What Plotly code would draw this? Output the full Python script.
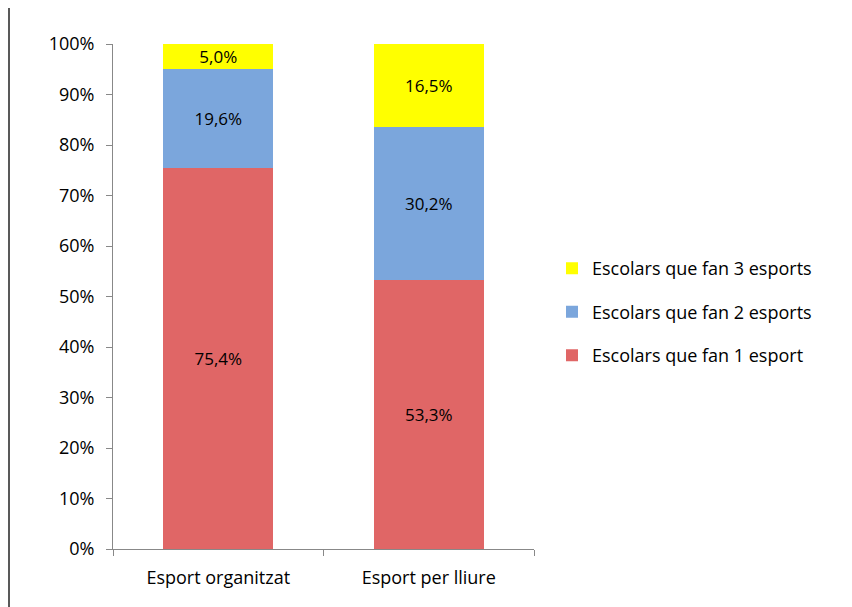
import plotly.graph_objects as go

categories = ["Esport organitzat", "Esport per lliure"]
one_sport = [75.4, 53.3]
two_sports = [19.6, 30.2]
three_sports = [5.0, 16.5]
y_ticks = [0, 10, 20, 30, 40, 50, 60, 70, 80, 90, 100]

series = [
    ("Escolars que fan 1 esport", one_sport, "#E06666"),
    ("Escolars que fan 2 esports", two_sports, "#7BA6DC"),
    ("Escolars que fan 3 esports", three_sports, "#FFFF00"),
]

FONT = "Open Sans, Liberation Sans, sans-serif"
PLOT_W = 421

fig = go.Figure()
for i, (name, vals, color) in enumerate(series):
    fig.add_trace(
        go.Bar(
            x=categories,
            y=vals,
            name=name,
            legendgroup=name,
            legendrank=len(series) - i,
            marker=dict(color=color, line=dict(width=0)),
            text=[f"{v:.1f}%".replace(".", ",") for v in vals],
            textposition="inside",
            insidetextanchor="middle",
            constraintext="none",
            textfont=dict(color="black", size=17, family=FONT),
            hoverinfo="skip",
        )
    )

# the page body adds 8px around the figure, so margins are shifted by that
fig.update_layout(
    barmode="stack",
    bargap=0.477,
    width=852,
    height=607,
    margin=dict(l=105, r=852 - 105 - PLOT_W, t=36, b=66),
    paper_bgcolor="white",
    plot_bgcolor="white",
    font=dict(family=FONT, size=18, color="black"),
    legend=dict(
        x=1 + 18 / PLOT_W,
        y=0.469,
        yanchor="middle",
        xanchor="left",
        traceorder="grouped",
        tracegroupgap=17,
        font=dict(size=18, family=FONT),
        itemsizing="constant",
    ),
    showlegend=True,
)

fig.update_xaxes(
    showline=True,
    linecolor="#888888",
    linewidth=1,
    ticks="outside",
    ticklen=6,
    tickcolor="#888888",
    tickson="boundaries",
    ticklabelstandoff=12,
    tickfont=dict(size=18),
)
fig.update_yaxes(
    range=[0, 100],
    tickvals=y_ticks,
    ticktext=[f"{v}%" for v in y_ticks],
    showline=True,
    linecolor="#888888",
    linewidth=1,
    ticks="outside",
    ticklen=6,
    tickcolor="#888888",
    ticklabelstandoff=8,
    showgrid=False,
    zeroline=False,
    tickfont=dict(size=18),
)

# left frame edge
fig.add_shape(type="line", xref="paper", yref="paper", x0=-104 / PLOT_W, x1=-104 / PLOT_W,
              y0=-0.2, y1=1.2, line=dict(color="#595959", width=2))

fig.write_html("out.html")
